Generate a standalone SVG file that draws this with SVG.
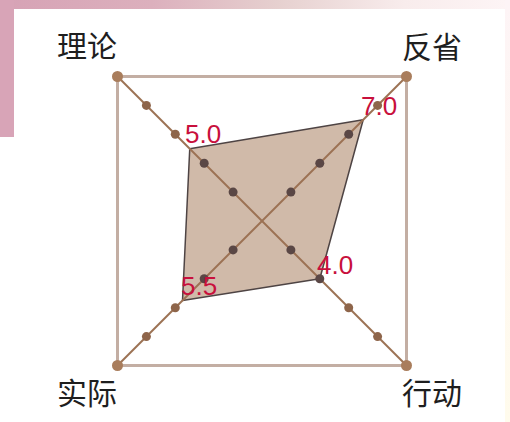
<svg xmlns="http://www.w3.org/2000/svg" width="510" height="422" viewBox="0 0 510 422">
  <defs>
    <linearGradient id="topg" x1="0" y1="0" x2="1" y2="0">
      <stop offset="0" stop-color="#d6a2b5"/>
      <stop offset="0.3" stop-color="#dcb0bd"/>
      <stop offset="0.55" stop-color="#e6d0cf"/>
      <stop offset="0.8" stop-color="#f8ecec"/>
      <stop offset="1" stop-color="#fdf4f5"/>
    </linearGradient>
    <linearGradient id="rightg" x1="0" y1="0" x2="0" y2="1">
      <stop offset="0" stop-color="#fdf4f6"/>
      <stop offset="1" stop-color="#fffbec"/>
    </linearGradient>
  </defs>
  <style>
    .frame { fill: none; stroke: #c3aea3; stroke-width: 3; }
    .axis { stroke: #9c7254; stroke-width: 2; }
    .area { fill: #d0baa9; stroke: #4e4444; stroke-width: 1.5; stroke-linejoin: round; }
    .cdot { fill: #a97d5c; }
    .odot { fill: #8e654a; }
    .idot { fill: #5a4745; }
    .lbl { font-family: "Noto Sans CJK SC", "Noto Sans", sans-serif; font-size: 30px; fill: #1e1e1e; }
    .val { font-family: "Liberation Sans", Arial, sans-serif; font-size: 26px; fill: #c8103c; }
  </style>

  <rect x="0" y="0" width="510" height="422" fill="#ffffff"/>
  <g id="background">
    <rect x="0" y="0" width="505" height="9" fill="url(#topg)"/>
    <rect x="0" y="0" width="14" height="137" fill="#d8a4b7"/>
    <rect x="505" y="0" width="5" height="422" fill="url(#rightg)"/>
  </g>

  <g id="frame">
    <rect class="frame" x="117.5" y="76.5" width="289" height="289"/>
  </g>

  <g id="data-area">
    <polygon class="area" points="189.75,148.75 363.2,119.8 319.8,278.8 182.5,300.5"/>
  </g>

  <g id="connectors">
    <line class="axis" x1="117.5" y1="76.5" x2="406.5" y2="365.5"/>
    <line class="axis" x1="406.5" y1="76.5" x2="117.5" y2="365.5"/>
  </g>

  <g id="ticks">
    <!-- top-left axis (理论) -->
    <circle class="odot" cx="146.4" cy="105.4" r="4.5"/>
    <circle class="odot" cx="175.3" cy="134.3" r="4.5"/>
    <circle class="idot" cx="204.2" cy="163.2" r="4.5"/>
    <circle class="idot" cx="233.1" cy="192.1" r="4.5"/>
    <!-- top-right axis (反省) -->
    <circle class="odot" cx="377.6" cy="105.4" r="4.5"/>
    <circle class="idot" cx="348.7" cy="134.3" r="4.5"/>
    <circle class="idot" cx="319.8" cy="163.2" r="4.5"/>
    <circle class="idot" cx="290.9" cy="192.1" r="4.5"/>
    <!-- bottom-right axis (行动) -->
    <circle class="idot" cx="290.9" cy="249.9" r="4.5"/>
    <circle class="idot" cx="319.8" cy="278.8" r="4.5"/>
    <circle class="odot" cx="348.7" cy="307.7" r="4.5"/>
    <circle class="odot" cx="377.6" cy="336.6" r="4.5"/>
    <!-- bottom-left axis (实际) -->
    <circle class="idot" cx="233.1" cy="249.9" r="4.5"/>
    <circle class="idot" cx="204.2" cy="278.8" r="4.5"/>
    <circle class="odot" cx="175.3" cy="307.7" r="4.5"/>
    <circle class="odot" cx="146.4" cy="336.6" r="4.5"/>
  </g>

  <g id="node-lilun">
    <circle class="cdot" cx="117.5" cy="76.5" r="5.5"/>
    <text class="lbl" x="57" y="57">理论</text>
    <text class="val" x="185" y="143">5.0</text>
  </g>
  <g id="node-fanxing">
    <circle class="cdot" cx="406.5" cy="76.5" r="5.5"/>
    <text class="lbl" x="402" y="58">反省</text>
    <text class="val" x="361" y="115">7.0</text>
  </g>
  <g id="node-xingdong">
    <circle class="cdot" cx="406.5" cy="365.5" r="5.5"/>
    <text class="lbl" x="402" y="404">行动</text>
    <text class="val" x="317" y="274">4.0</text>
  </g>
  <g id="node-shiji">
    <circle class="cdot" cx="117.5" cy="365.5" r="5.5"/>
    <text class="lbl" x="57" y="404">实际</text>
    <text class="val" x="181" y="295">5.5</text>
  </g>
</svg>
